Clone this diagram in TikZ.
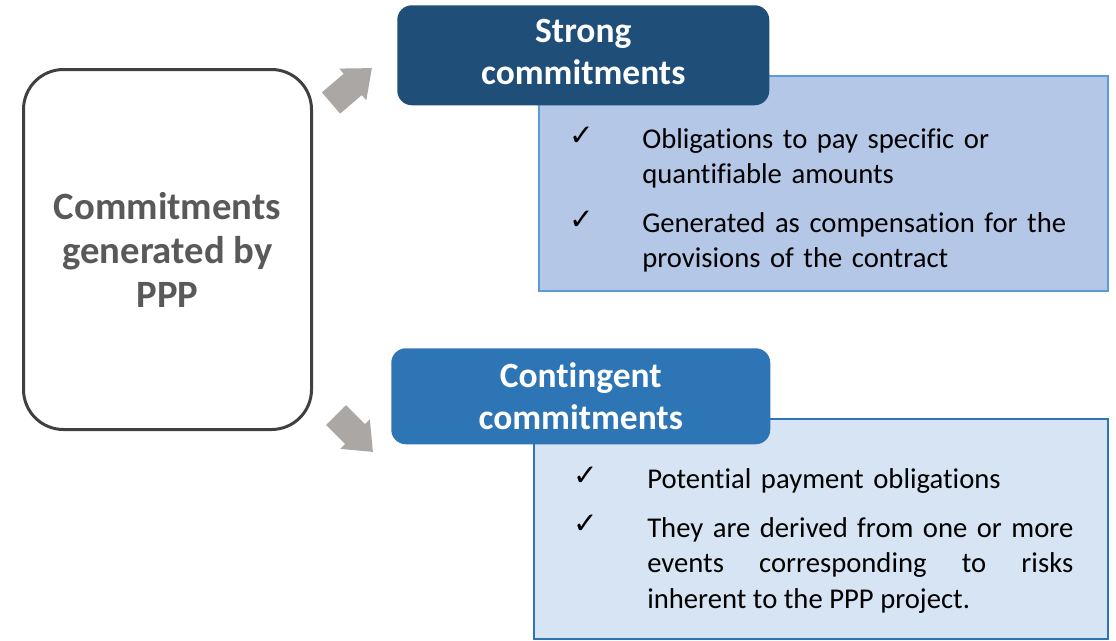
\documentclass[tikz,border=0pt]{standalone}
\usepackage{fontspec}
\setmainfont{Carlito}[Ligatures=NoCommon]
\newfontfamily\tickfont{DejaVu Sans}
\usepackage{xcolor}
\usetikzlibrary{arrows.meta}

\definecolor{darkhead}{RGB}{31,78,121}
\definecolor{midhead}{RGB}{46,117,182}
\definecolor{topfill}{RGB}{180,199,231}
\definecolor{topline}{RGB}{91,155,213}
\definecolor{botfill}{RGB}{214,228,243}
\definecolor{botline}{RGB}{46,117,182}
\definecolor{leftline}{RGB}{64,64,64}
\definecolor{lefttext}{RGB}{89,89,89}
\definecolor{arrowgray}{RGB}{170,167,165}

\begin{document}
\begin{tikzpicture}[x=0.75pt,y=-0.75pt,
        header/.style = {rounded corners=11pt, fill=#1, text=white, align=center,
            font=\bfseries\fontsize{26.6}{32}\selectfont, inner sep=0pt, anchor=north west},
        body/.style = {line width=1.5pt, inner sep=0pt, anchor=north west},
        item/.style = {anchor=north west, inner sep=0pt, text width=#1,
            font=\fontsize{21.5}{26.6}\selectfont},
        item/.default = 330pt,
        tick/.style = {anchor=base, inner sep=0pt, font=\tickfont\fontsize{22}{24}\selectfont},
        bigarrow/.style = {line width=21pt, draw=arrowgray, fill=arrowgray,
            -{Triangle[length=19pt,width=30pt]}},
    ]
    \useasboundingbox (0,0) rectangle (1116,640);
    % PPP
    \node[draw=leftline, line width=2.25pt, rounded corners=30pt, minimum width=216pt,
        minimum height=270pt, align=center, text=lefttext, inner sep=0pt, anchor=north west,
        font=\bfseries\fontsize{29}{33}\selectfont] (ppp) at (22,68)
        {Commitments\\generated by\\PPP};
    % Strong
    \node[body, draw=topline, fill=topfill, minimum width=426.75pt, minimum height=161.25pt]
        (strongbody) at (538,75) {};
    \node[header=darkhead, minimum width=279pt, minimum height=75pt, text depth=5pt]
        (strong) at (397,5) {Strong\\commitments};
    \node[tick] (st1) at (582,145) {✓};
    \node[item, align=left] (s1) at (642,123.2)
        {\strut Obligations to pay specific or\\quantifiable amounts};
    \node[tick] (st2) at (582,229) {✓};
    \node[item, align=left] (s2) at (642,207.2)
        {\strut Generated as compensation for the\\provisions of the contract};
    % Contingent
    \node[body, draw=botline, fill=botfill, minimum width=430.5pt, minimum height=165pt]
        (contbody) at (533,418) {};
    \node[header=midhead, minimum width=284.25pt, minimum height=72pt] (contingent) at (391,348)
        {Contingent\\commitments};
    \node[tick] (ct1) at (586,485) {✓};
    \node[item=319.5pt, align=left] (c1) at (647,463.2)
        {\strut Potential payment obligations};
    \node[tick] (ct2) at (586,533) {✓};
    \node[item=319.5pt, align=justify] (c2) at (647,512.2)
        {\strut They are derived from one or more\linebreak events corresponding to risks\linebreak inherent to the PPP project.};
    % arrows
    \coordinate (a1s) at (331,103);
    \coordinate (a1e) at (372,68);
    \coordinate (a2s) at (336,415);
    \coordinate (a2e) at (373,452);
    \draw[bigarrow] (a1s) -- (a1e);
    \draw[bigarrow] (a2s) -- (a2e);
\end{tikzpicture}
\end{document}
